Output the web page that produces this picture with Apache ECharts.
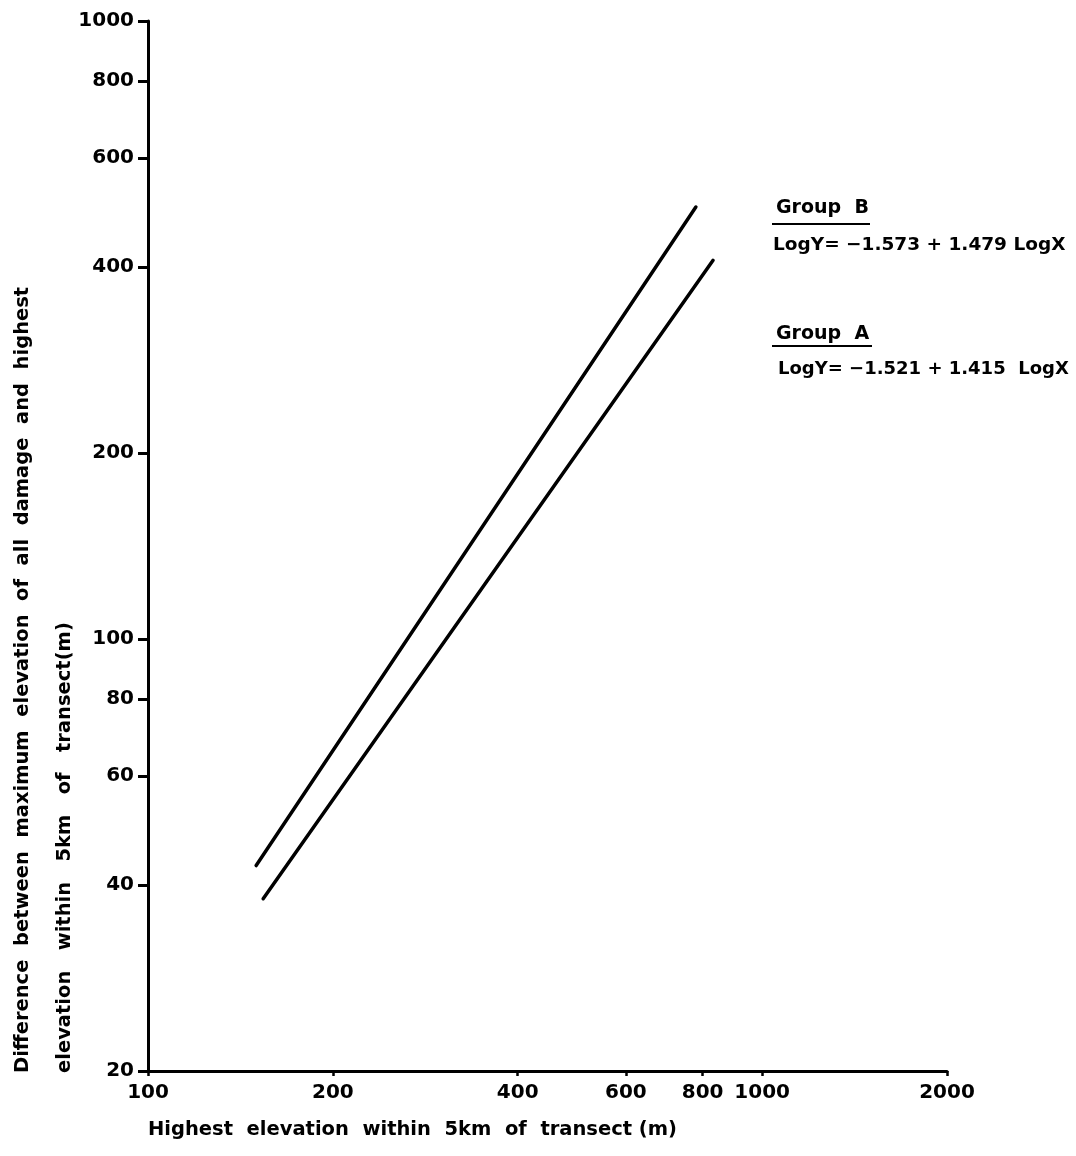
<!DOCTYPE html>
<html><head><meta charset="utf-8">
<script src="https://cdn.jsdelivr.net/npm/echarts@6/dist/echarts.min.js"></script>
<style>html,body{margin:0;padding:0;background:#fff}#c{width:1076px;height:1156px}</style>
</head><body><div id="c"></div>
<script>
// Tick labels
const xTicks = [100, 200, 400, 600, 800, 1000, 2000];
const yTicks = [20, 40, 60, 80, 100, 200, 400, 600, 800, 1000];
// Regression line end points (X in m, Y in m)
const groupB_x = [150, 780];
const groupB_y = [43, 500];
const groupA_x = [154, 832];
const groupA_y = [38, 410];
// Text
const groupB_label = 'Group  B';
const groupB_eq = 'LogY= \u22121.573 + 1.479 LogX';
const groupA_label = 'Group  A';
const groupA_eq = 'LogY= \u22121.521 + 1.415  LogX';
const yName1 = 'Difference  between  maximum  elevation  of  all  damage  and  highest';
const yName2 = 'elevation   within   5km   of   transect(m)';
const xName = 'Highest  elevation  within  5km  of  transect (m)';

const FONT = '"DejaVu Sans", sans-serif';
const chart = echarts.init(document.getElementById('c'));
const pairs = (xs, ys) => xs.map((x, i) => [x, ys[i]]);

chart.setOption({
  backgroundColor: '#fff',
  animation: false,
  grid: { left: 148, right: 129, top: 21, bottom: 85 },
  xAxis: {
    type: 'log', logBase: 10, min: 100, max: 2000,
    axisLine: { lineStyle: { color: '#000', width: 3 } },
    axisTick: { show: true, inside: false, length: 5, lineStyle: { color: '#000', width: 2.5 }, customValues: xTicks },
    axisLabel: { customValues: xTicks, color: '#000', fontFamily: FONT, fontWeight: 'bold', fontSize: 20, margin: 12, formatter: v => String(Math.round(v)) },
    splitLine: { show: false }, minorTick: { show: false }
  },
  yAxis: {
    type: 'log', logBase: 10, min: 20, max: 1000,
    axisLine: { lineStyle: { color: '#000', width: 3 } },
    axisTick: { show: true, inside: false, length: 10, lineStyle: { color: '#000', width: 3 }, customValues: yTicks },
    axisLabel: { customValues: yTicks, color: '#000', fontFamily: FONT, fontWeight: 'bold', fontSize: 20, margin: 14, formatter: v => String(Math.round(v)) },
    splitLine: { show: false }, minorTick: { show: false }
  },
  series: [
    { name: 'Group B', type: 'line', data: pairs(groupB_x, groupB_y), showSymbol: false, symbol: 'none',
      lineStyle: { color: '#000', width: 3.5, cap: 'round' } },
    { name: 'Group A', type: 'line', data: pairs(groupA_x, groupA_y), showSymbol: false, symbol: 'none',
      lineStyle: { color: '#000', width: 3.5, cap: 'round' } }
  ],
  graphic: [
    { type: 'text', left: 776, top: 199, style: { text: groupB_label, font: 'bold 19px ' + FONT, fill: '#000' } },
    { type: 'line', shape: { x1: 772, y1: 224, x2: 870, y2: 224 }, style: { stroke: '#000', lineWidth: 2 } },
    { type: 'text', left: 773, top: 236, style: { text: groupB_eq, font: 'bold 18.5px ' + FONT, fill: '#000' } },
    { type: 'text', left: 776, top: 325, style: { text: groupA_label, font: 'bold 19px ' + FONT, fill: '#000' } },
    { type: 'line', shape: { x1: 772, y1: 346, x2: 872, y2: 346 }, style: { stroke: '#000', lineWidth: 2 } },
    { type: 'text', left: 778, top: 360, style: { text: groupA_eq, font: 'bold 18px ' + FONT, fill: '#000' } },
    { type: 'text', x: 23, y: 1073, rotation: Math.PI / 2,
      style: { text: yName1, font: 'bold 19.5px ' + FONT, fill: '#000', align: 'left', verticalAlign: 'middle' } },
    { type: 'text', x: 65, y: 1073, rotation: Math.PI / 2,
      style: { text: yName2, font: 'bold 19.5px ' + FONT, fill: '#000', align: 'left', verticalAlign: 'middle' } },
    { type: 'text', left: 148, top: 1120, style: { text: xName, font: 'bold 19.5px ' + FONT, fill: '#000' } }
  ]
});
</script></body></html>
